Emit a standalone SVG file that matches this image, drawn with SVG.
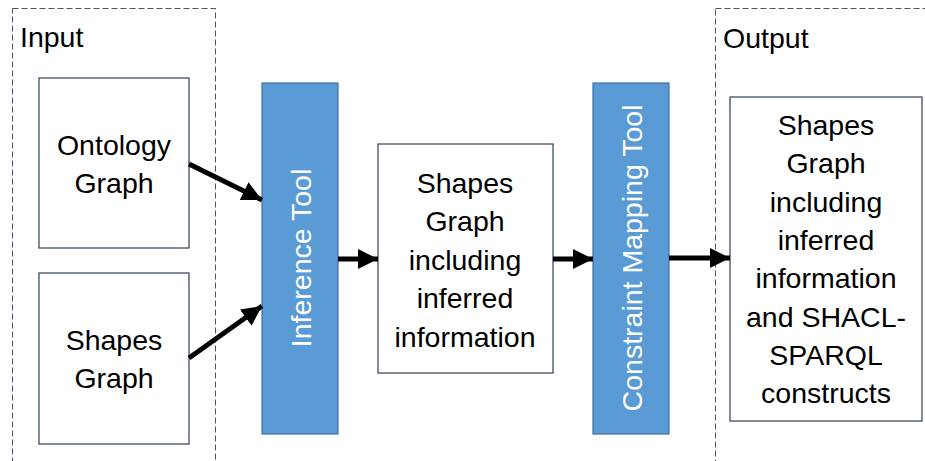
<svg xmlns="http://www.w3.org/2000/svg" width="925" height="461" viewBox="0 0 925 461">
  <style>
    .frame { fill: none; stroke: #44546A; stroke-width: 1; stroke-dasharray: 6 3; }
    .box { fill: #FFFFFF; stroke: #2F3E56; stroke-width: 1.2; }
    .tool { fill: #5B9BD5; stroke: #41719C; stroke-width: 1.2; }
    .label { font-family: "Liberation Sans", Arial, sans-serif; font-size: 28.5px; fill: #000000; text-anchor: middle; }
    .title { font-family: "Liberation Sans", Arial, sans-serif; font-size: 28.5px; fill: #000000; }
    .toollabel { font-family: "Liberation Sans", Arial, sans-serif; font-size: 28.5px; fill: #FFFFFF; text-anchor: middle; }
    .edge { stroke: #000000; stroke-width: 5; fill: none; marker-end: url(#head); }
  </style>
  <defs>
    <marker id="head" markerUnits="userSpaceOnUse" markerWidth="20" markerHeight="20" viewBox="0 0 18 18" refX="18" refY="9" orient="auto">
      <path d="M0,0 L18,9 L0,18 Z" fill="#000000"/>
    </marker>
  </defs>

  <rect width="925" height="461" fill="#FFFFFF"/>

  <!-- input / output frames -->
  <g id="input-frame">
    <rect class="frame" x="12.5" y="8.5" width="203" height="470"/>
    <text class="title" x="20" y="47">Input</text>
  </g>
  <g id="output-frame">
    <rect class="frame" x="715.5" y="8.5" width="240" height="470"/>
    <text class="title" x="723" y="48">Output</text>
  </g>

  <g id="ontology-graph">
    <rect class="box" x="39" y="78" width="150" height="170"/>
    <text class="label" x="114" y="155">Ontology</text>
    <text class="label" x="114" y="193">Graph</text>
  </g>

  <g id="shapes-graph">
    <rect class="box" x="39" y="273" width="150" height="171"/>
    <text class="label" x="114" y="350">Shapes</text>
    <text class="label" x="114" y="388">Graph</text>
  </g>

  <g id="inference-tool">
    <rect class="tool" x="262" y="83" width="76" height="351"/>
    <text class="toollabel" transform="translate(311,258) rotate(-90)">Inference Tool</text>
  </g>

  <g id="shapes-graph-inferred">
    <rect class="box" x="378" y="144" width="175" height="229"/>
    <text class="label" x="465" y="193">Shapes</text>
    <text class="label" x="465" y="231">Graph</text>
    <text class="label" x="465" y="270">including</text>
    <text class="label" x="465" y="308">inferred</text>
    <text class="label" x="465" y="347">information</text>
  </g>

  <g id="constraint-mapping-tool">
    <rect class="tool" x="593" y="83" width="76" height="351"/>
    <text class="toollabel" transform="translate(642,258) rotate(-90)">Constraint Mapping Tool</text>
  </g>

  <g id="shapes-graph-output">
    <rect class="box" x="730" y="97" width="192" height="324"/>
    <text class="label" x="826" y="135">Shapes</text>
    <text class="label" x="826" y="173">Graph</text>
    <text class="label" x="826" y="212">including</text>
    <text class="label" x="826" y="250">inferred</text>
    <text class="label" x="826" y="288">information</text>
    <text class="label" x="826" y="327">and SHACL-</text>
    <text class="label" x="826" y="365">SPARQL</text>
    <text class="label" x="826" y="403">constructs</text>
  </g>

  <g id="connectors">
    <line class="edge" x1="189" y1="164" x2="262" y2="200"/>
    <line class="edge" x1="189" y1="358" x2="262" y2="306"/>
    <line class="edge" x1="338" y1="259" x2="378" y2="259"/>
    <line class="edge" x1="553" y1="259" x2="593" y2="259"/>
    <line class="edge" x1="669" y1="258" x2="730" y2="258"/>
  </g>
</svg>
